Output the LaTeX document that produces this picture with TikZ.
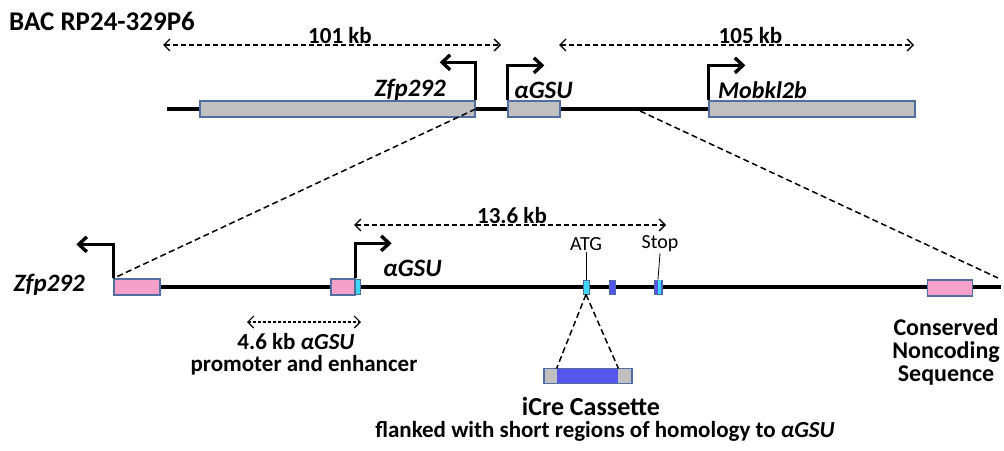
\documentclass[tikz,border=0pt]{standalone}
\usepackage{fontspec}
\setmainfont{Carlito}
\usetikzlibrary{arrows.meta}

\definecolor{boxgray}{RGB}{192,192,192}
\definecolor{boxedge}{RGB}{80,110,160}
\definecolor{cnspink}{RGB}{245,160,200}
\definecolor{exonblue}{RGB}{85,85,235}
\definecolor{exoncyan}{RGB}{60,215,245}

\tikzset{
  gene/.style={draw=boxedge,fill=boxgray,line width=1.3pt,inner sep=0pt,minimum height=16},
  cnsbox/.style={draw=boxedge,fill=cnspink,line width=1.3pt,inner sep=0pt,minimum height=16,minimum width=45},
  exonbox/.style={draw=boxedge,fill=exonblue,line width=0.9pt,inner sep=0pt,minimum height=14,minimum width=6},
  dna/.style={line width=3.6pt},
  tss/.style={line width=3.4pt,-{Straight Barb[length=8pt,width=15pt]}},
  span/.style={line width=1.4pt,dash pattern=on 5pt off 3pt,{Straight Barb[length=6pt,width=12pt]}-{Straight Barb[length=6pt,width=12pt]}},
  zoomline/.style={line width=1.5pt,dash pattern=on 6pt off 3.5pt},
  lbl/.style={font=\bfseries\fontsize{23}{25}\selectfont,inner sep=1pt},
  genelbl/.style={font=\bfseries\itshape\fontsize{25}{27}\selectfont,inner sep=1pt},
  small/.style={font=\fontsize{20}{22}\selectfont,inner sep=1pt}
}

\begin{document}
\begin{tikzpicture}[x=1pt,y=1pt,yscale=-1]
\useasboundingbox (0,0) rectangle (1004,450);

% Title
\node[font=\bfseries\fontsize{27}{29}\selectfont,anchor=west,inner sep=0pt] (bac) at (9,21) {BAC RP24-329P6};

%%% BAC overview
\coordinate (topL) at (167,109);
\coordinate (topR) at (915,109);
\draw[dna] (topL) -- (topR);
\node[gene,minimum width=275] (zfp) at (337.5,109) {};
\node[gene,minimum width=52] (agsu) at (534,109) {};
\node[gene,minimum width=206] (mob) at (812,109) {};
% promoters
\draw[tss] (zfp.north east) -- ++(0,-38) -- ++(-36,0);
\draw[tss] (agsu.north west) -- ++(0,-35) -- ++(37,0);
\draw[tss] (mob.north west) -- ++(0,-35) -- ++(37,0);
\node[genelbl,anchor=east] (zfplbl) at (447,90) {Zfp292};
\node[genelbl,anchor=west] (agsulbl) at (513,90) {αGSU};
\node[genelbl,anchor=west,font=\bfseries\itshape\fontsize{24}{26}\selectfont] (moblbl) at (717,90) {Mobkl2b};
% distances
\coordinate (s1a) at (163,45);
\coordinate (s1b) at (501,45);
\draw[span] (s1a) -- node[lbl,above=0pt,xshift=8pt] (kb101) {101 kb} (s1b);
\coordinate (s2a) at (559,45);
\coordinate (s2b) at (914,45);
\draw[span] (s2a) -- node[lbl,above=0pt,xshift=14pt] (kb105) {105 kb} (s2b);

%%% enlarged region
\coordinate (botL) at (113,287);
\coordinate (botR) at (1001,287);
\draw[dna] (botL) -- (botR);
\node[cnsbox,minimum width=46] (cns1) at (137,287) {};
\node[cnsbox,minimum width=24] (cns2) at (343,287) {};
\node[exonbox,fill=exoncyan,minimum width=5,minimum height=15] (ex1) at (357.5,287) {};
\node[cnsbox,minimum width=45] (cns3) at (950,288) {};
\node[exonbox,fill=exoncyan] (atg) at (586,287) {};
\node[exonbox] (ex2) at (612,287) {};
\node[exonbox,minimum width=8] (stop) at (658,287) {};
\fill[exoncyan] ([xshift=4pt]stop.south west) rectangle ([xshift=-1pt]stop.north east);
% zoom lines
\coordinate (zr) at (640,111);
\coordinate (zrb) at (998,278);
\draw[zoomline] (zfp.east) -- (cns1.north west);
\draw[zoomline] (zr) -- (zrb);
% promoters
\draw[tss] (cns1.north west) -- ++(0,-34) -- ++(-37,0);
\draw[tss] (cns2.north east) -- ++(0,-35) -- ++(36,0);
\node[genelbl,anchor=east] (zfplbl2) at (86,285) {Zfp292};
\node[genelbl,anchor=west] (agsulbl2) at (382,268) {αGSU};
% ATG / Stop
\node[small] (atglbl) at (586,244) {ATG};
\node[small] (stoplbl) at (660,244) {Stop};
\draw[line width=0.8pt] (atglbl.south) -- (atg.north);
\draw[line width=0.8pt] (stoplbl.south) -- (stop.north);
% distances
\coordinate (s3a) at (354,225);
\coordinate (s3b) at (666,225);
\draw[span] (s3a) -- node[lbl,above=0pt,xshift=2pt] (kb136) {13.6 kb} (s3b);
\coordinate (s4a) at (247,322);
\coordinate (s4b) at (361,322);
\draw[span,line width=1.1pt,dash pattern=on 3pt off 2pt] (s4a) -- (s4b);
\node[lbl] (prom1) at (296,342) {4.6 kb \textit{αGSU}};
\node[lbl] (prom2) at (304,365) {promoter and enhancer};

%%% iCre cassette
\node[gene,minimum width=88,minimum height=15] (cass) at (588,376) {};
\node[exonbox,minimum width=61,minimum height=14,draw=none] (icre) at (587.5,376) {};
\draw[zoomline] (atg.south) -- (icre.north west);
\draw[zoomline] (atg.south) -- (icre.north east);
\node[font=\bfseries\fontsize{26}{28}\selectfont,inner sep=1pt] (icrelbl) at (591,406) {iCre Cassette};
\node[lbl] (flank) at (605,431) {flanked with short regions of homology to \textit{αGSU}};

% CNS label
\node[lbl,align=center,font=\bfseries\fontsize{24}{23}\selectfont] (cnslbl) at (946,352) {Conserved\\Noncoding\\Sequence};
\end{tikzpicture}
\end{document}
